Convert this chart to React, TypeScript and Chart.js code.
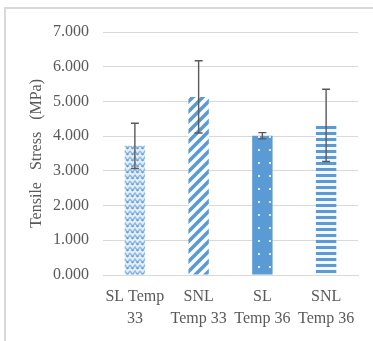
import React, { useEffect, useRef } from "react";
import { Chart, registerables } from "chart.js";

Chart.register(...registerables);

const categories: string[][] = [
  ["SL Temp", "33"],
  ["SNL", "Temp 33"],
  ["SL", "Temp 36"],
  ["SNL", "Temp 36"],
];
const meanValues: number[] = [3.72, 5.13, 4.01, 4.31];
const errorValues: number[] = [0.65, 1.04, 0.09, 1.04];
const yTickValues: number[] = [0, 1, 2, 3, 4, 5, 6, 7];
const yAxisTitle = "Tensile   Stress   (MPa)";

const BLUE = "#5B9BD5";
const TEXT = "#595959";
const GRID = "#d9d9d9";

function makeTile(w: number, h: number, draw: (c: CanvasRenderingContext2D) => void) {
  const cv = document.createElement("canvas");
  cv.width = w;
  cv.height = h;
  const c = cv.getContext("2d")!;
  draw(c);
  return c.createPattern(cv, "repeat")!;
}

function makePatterns(): CanvasPattern[] {
  const zigzag = makeTile(10, 6, (c) => {
    c.fillStyle = "#e4eef8";
    c.fillRect(0, 0, 10, 6);
    c.strokeStyle = "#8fb8e2";
    c.lineWidth = 1.4;
    c.beginPath();
    c.moveTo(0, 1);
    c.lineTo(2.5, 4.5);
    c.lineTo(5, 1);
    c.lineTo(7.5, 4.5);
    c.lineTo(10, 1);
    c.stroke();
    c.fillStyle = BLUE;
    c.fillRect(1.5, 3.5, 2, 1.5);
    c.fillRect(6.5, 3.5, 2, 1.5);
  });
  const diag = makeTile(10, 10, (c) => {
    c.fillStyle = "#ffffff";
    c.fillRect(0, 0, 10, 10);
    c.strokeStyle = BLUE;
    c.lineWidth = 3.6;
    c.lineCap = "square";
    c.beginPath();
    c.moveTo(-5, 5);
    c.lineTo(5, -5);
    c.moveTo(0, 10);
    c.lineTo(10, 0);
    c.moveTo(5, 15);
    c.lineTo(15, 5);
    c.stroke();
  });
  const dots = makeTile(11, 13, (c) => {
    c.fillStyle = BLUE;
    c.fillRect(0, 0, 11, 13);
    c.fillStyle = "rgba(235,243,251,0.9)";
    c.fillRect(5, 6, 2, 2);
  });
  const hstripes = makeTile(6, 6, (c) => {
    c.fillStyle = "#f4f8fc";
    c.fillRect(0, 0, 6, 6);
    c.fillStyle = BLUE;
    c.fillRect(0, 0, 6, 3);
  });
  return [zigzag, diag, dots, hstripes];
}

const errorBarPlugin = {
  id: "errorBars",
  afterDatasetsDraw(chart: any) {
    const meta = chart.getDatasetMeta(0);
    const yScale = chart.scales.y;
    const ctx = chart.ctx;
    ctx.save();
    ctx.strokeStyle = TEXT;
    ctx.lineWidth = 1.4;
    meta.data.forEach((bar: any, i: number) => {
      const x = bar.x;
      const top = yScale.getPixelForValue(meanValues[i] + errorValues[i]);
      const bot = yScale.getPixelForValue(meanValues[i] - errorValues[i]);
      ctx.beginPath();
      ctx.moveTo(x, top);
      ctx.lineTo(x, bot);
      ctx.moveTo(x - 4, top);
      ctx.lineTo(x + 4, top);
      ctx.moveTo(x - 4, bot);
      ctx.lineTo(x + 4, bot);
      ctx.stroke();
    });
    ctx.restore();
  },
};

export default function App() {
  const ref = useRef<HTMLCanvasElement | null>(null);
  useEffect(() => {
    if (!ref.current) return;
    const patterns = makePatterns();
    const chart = new Chart(ref.current, {
      type: "bar",
      data: {
        labels: categories,
        datasets: [
          {
            data: meanValues,
            backgroundColor: patterns,
            borderWidth: 0,
            barPercentage: 0.32,
            categoryPercentage: 1,
          },
        ],
      },
      options: {
        responsive: false,
        animation: false,
        devicePixelRatio: 1,
        layout: { padding: { left: 0, top: 32, right: 15, bottom: 0 } },
        plugins: { legend: { display: false }, tooltip: { enabled: false } },
        scales: {
          x: {
            grid: { display: false, drawTicks: false },
            border: { display: true, color: GRID, width: 1 },
            ticks: {
              color: TEXT,
              padding: 11,
              maxRotation: 0,
              autoSkip: false,
              font: { family: "'Liberation Serif', serif", size: 16, lineHeight: 1.375 },
            },
            afterFit: (s: any) => {
              s.height = 66;
            },
          },
          y: {
            min: 0,
            max: 7,
            afterBuildTicks: (s: any) => {
              s.ticks = yTickValues.map((v) => ({ value: v }));
            },
            grid: { color: GRID, lineWidth: 1, drawTicks: false },
            border: { display: false },
            ticks: {
              color: TEXT,
              padding: 14,
              font: { family: "'Liberation Serif', serif", size: 16 },
              callback: (v: any) => Number(v).toFixed(3),
            },
            title: {
              display: true,
              text: yAxisTitle,
              color: TEXT,
              padding: { top: 27, bottom: 0 },
              font: { family: "'Liberation Serif', serif", size: 16, lineHeight: 1.2 },
            },
            afterFit: (s: any) => {
              s.width = 103;
            },
          },
        },
      },
      plugins: [errorBarPlugin],
    });
    return () => chart.destroy();
  }, []);

  return (
    <div style={{ position: "absolute", left: 0, top: 0, width: 373, height: 341, background: "#fff" }}>
      <div
        style={{
          position: "absolute",
          left: 4,
          top: 7,
          width: 369,
          height: 334,
          borderTop: `2px solid ${GRID}`,
          borderLeft: `2px solid ${GRID}`,
          boxSizing: "border-box",
        }}
      />
      <canvas ref={ref} width={373} height={341} style={{ position: "absolute", left: 0, top: 0 }} />
    </div>
  );
}
